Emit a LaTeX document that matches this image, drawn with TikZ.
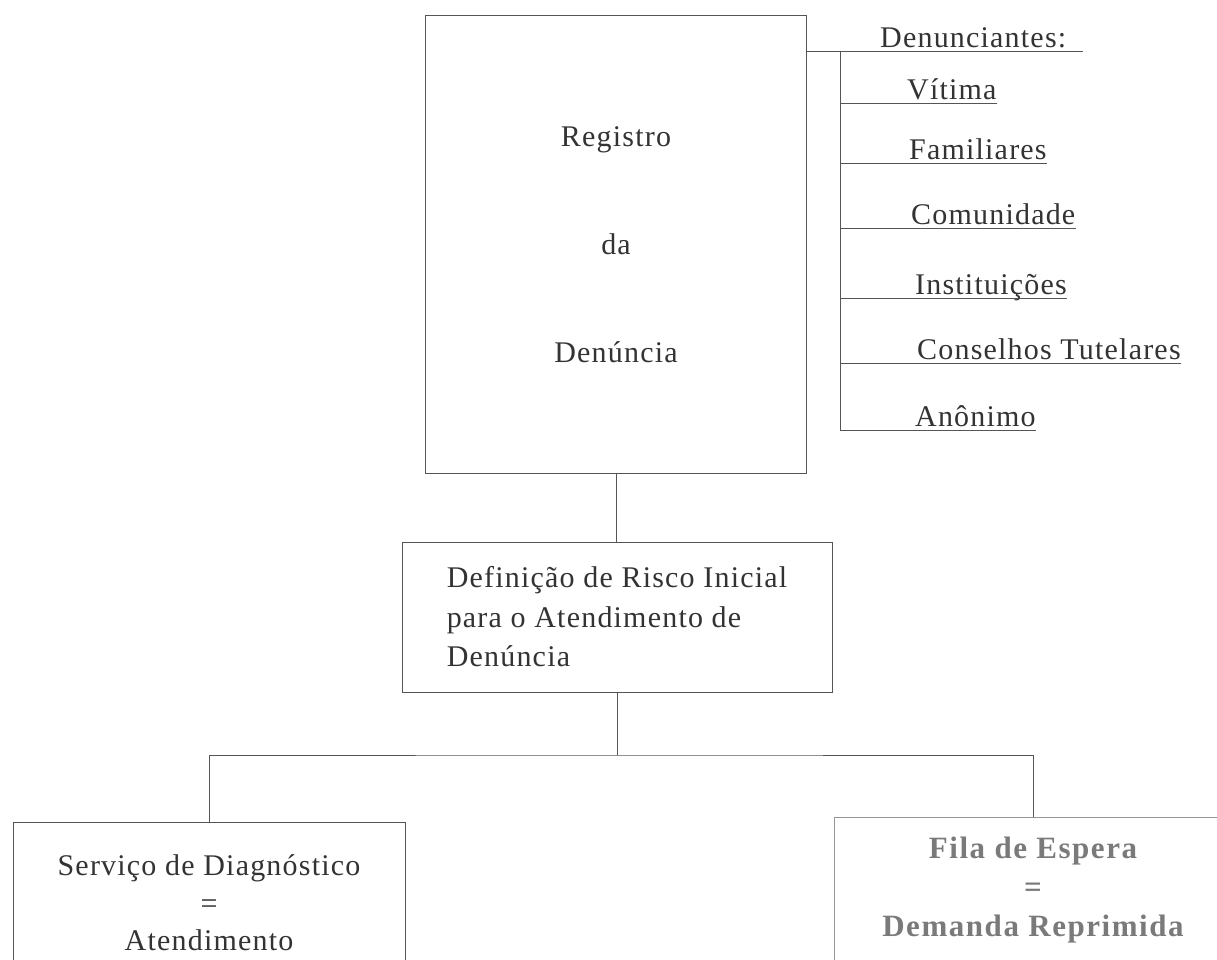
\documentclass[tikz,border=0pt]{standalone}
\usepackage{fontspec}
\setmainfont{Liberation Serif}
\newfontfamily\spacedfont[LetterSpace=4]{Liberation Serif}
\newfontfamily\boldspaced[LetterSpace=5,BoldFont={Liberation Serif Bold}]{Liberation Serif}
\definecolor{ink}{HTML}{333333}
\definecolor{linec}{HTML}{555555}
\definecolor{pale}{HTML}{7A7A7A}
\tikzset{
  box/.style={draw=linec, line width=1pt, rectangle, inner sep=0pt, text=ink},
  conn/.style={draw=linec, line width=1pt},
  palebox/.style={draw=pale!80, line width=1pt, rectangle, inner sep=0pt, text=pale},
  lbl/.style={inner sep=0pt, anchor=base west, text=ink, font=\spacedfont\fontsize{30}{34}\selectfont},
}
\begin{document}
\begin{tikzpicture}[x=1pt,y=-1pt]
\clip (0,0) rectangle (1217,960);
\fill[white] (0,0) rectangle (1217,960);

% main box
\node[box, minimum width=381pt, minimum height=457pt, align=center,
      font=\spacedfont\fontsize{30}{34}\selectfont] (reg) at (616,244.5)
  {Registro\\[74pt]da\\[74pt]Den\'uncia};

% definition box
\node[box, minimum width=430pt, minimum height=150pt, align=left,
      font=\spacedfont\fontsize{30}{39.5}\selectfont] (def) at (617,617)
  {Defini\c{c}\~ao de Risco Inicial\\para o Atendimento de\\Den\'uncia};

% bottom boxes
\node[box, minimum width=392pt, minimum height=162pt, align=center,
      font=\spacedfont\fontsize{30}{37.5}\selectfont] (diag) at (209,903)
  {Servi\c{c}o de Diagn\'ostico\\=\\Atendimento};
\node[palebox, minimum width=398pt, minimum height=146pt, align=center,
      font=\boldspaced\bfseries\fontsize{31}{39}\selectfont] (fila) at (1033,890)
  {Fila de Espera\\=\\Demanda Reprimida};

% connectors in the tree
\coordinate (br) at (617,755);
\draw[conn] (reg.south) -- (reg.south |- def.north);
\draw[conn] (def.south) -- (br);
\draw[conn] (diag.north) |- (br) -| (fila.north);

% denunciantes
\node[lbl] (den) at (880,48) {Denunciantes:};
\node[lbl] (v1) at (907,100) {V\'itima};
\node[lbl] (v2) at (909,160) {Familiares};
\node[lbl] (v3) at (911,224) {Comunidade};
\node[lbl] (v4) at (915,294) {Institui\c{c}\~oes};
\node[lbl] (v5) at (917,359) {Conselhos Tutelares};
\node[lbl] (v6) at (915,426) {An\^onimo};

\coordinate (dtop) at (reg.east |- 0,52);
\coordinate (dend) at (1083,52);
\coordinate (sp0) at (840,52);
\coordinate (sp6) at (840,430);
\draw[conn] (dtop) -- (dend);
\draw[conn] (sp0) -- (sp6);
\foreach \i/\y in {1/104,2/164,3/228,4/298,5/363,6/430}{
  \coordinate (s\i) at (840,\y);
  \draw[conn] (s\i) -- (s\i -| v\i.east);
}
\end{tikzpicture}
\end{document}
